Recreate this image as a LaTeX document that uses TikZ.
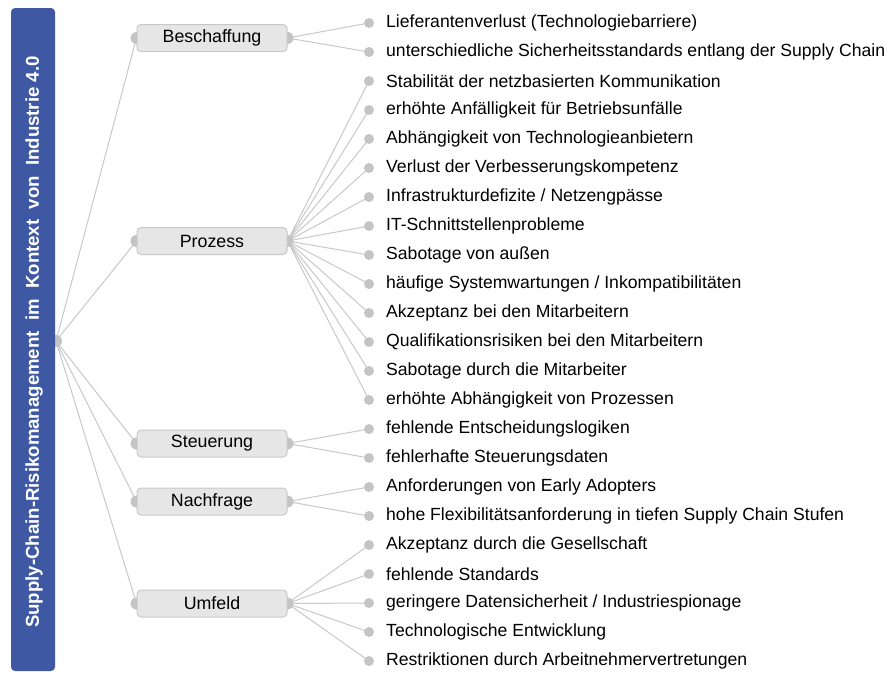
\documentclass[tikz,border=0pt]{standalone}
\usepackage{fontspec}
\setmainfont{Liberation Sans}
\usetikzlibrary{backgrounds}
\definecolor{barblue}{RGB}{62,88,164}
\definecolor{boxfill}{RGB}{230,230,230}
\definecolor{boxline}{RGB}{200,200,200}
\definecolor{linec}{RGB}{200,200,200}
\definecolor{dotc}{RGB}{196,196,196}
\begin{document}
\begin{tikzpicture}[x=1pt,y=-1pt,
  cat/.style={draw=boxline, line width=1pt, fill=boxfill, rounded corners=4pt,
    minimum width=150pt, minimum height=27pt, inner sep=0pt,
    font=\fontsize{17.8}{19}\selectfont},
  leafdot/.style={circle, fill=dotc, minimum size=10pt, inner sep=0pt},
  sidedot/.style={circle, fill=dotc, minimum size=12pt, inner sep=0pt},
  leaf/.style={anchor=west, inner sep=0pt, font=\fontsize{17.6}{19}\selectfont},
  conn/.style={draw=linec, line width=1pt}]
\useasboundingbox (0,0) rectangle (894,673);
% title bar
\node[fill=barblue, rounded corners=4pt, minimum width=44pt, minimum height=663pt, inner sep=0pt] (bar) at (33,339.5) {};
\node[rotate=90, text=white, font=\fontsize{18.6}{20}\selectfont\bfseries] (title) at (34,342)
  {Supply-Chain-Risikomanagement\ \ im\ \ Kontext\ \ von\ \ Industrie 4.0};
\coordinate (root) at (56,341);
% categories
\node[cat] (c1) at (212,38) {Beschaffung};
\node[cat] (c2) at (212,241) {Prozess};
\node[cat] (c3) at (212,443.5) {Steuerung};
\node[cat] (c4) at (212,501.5) {Nachfrage};
\node[cat] (c5) at (212,603.5) {Umfeld};
% leaves
\foreach \i/\t in {0/{Lieferantenverlust (Technologiebarriere)},
  1/{unterschiedliche Sicherheitsstandards entlang der Supply Chain},
  2/{Stabilität der netzbasierten Kommunikation},
  3/{erhöhte Anfälligkeit für Betriebsunfälle},
  4/{Abhängigkeit von Technologieanbietern},
  5/{Verlust der Verbesserungskompetenz},
  6/{Infrastrukturdefizite / Netzengpässe},
  7/{IT-Schnittstellenprobleme},
  8/{Sabotage von außen},
  9/{häufige Systemwartungen / Inkompatibilitäten},
  10/{Akzeptanz bei den Mitarbeitern},
  11/{Qualifikationsrisiken bei den Mitarbeitern},
  12/{Sabotage durch die Mitarbeiter},
  13/{erhöhte Abhängigkeit von Prozessen},
  14/{fehlende Entscheidungslogiken},
  15/{fehlerhafte Steuerungsdaten},
  16/{Anforderungen von Early Adopters},
  17/{hohe Flexibilitätsanforderung in tiefen Supply Chain Stufen},
  18/{Akzeptanz durch die Gesellschaft},
  19/{fehlende Standards},
  20/{geringere Datensicherheit / Industriespionage},
  21/{Technologische Entwicklung},
  22/{Restriktionen durch Arbeitnehmervertretungen}}{
  \node[leafdot] (d\i) at (369,{23+29*\i}) {};
  \node[leaf] (t\i) at (386,{23+29*\i}) {\t};
}
\begin{scope}[on background layer]
  \foreach \c in {c1,c2,c3,c4,c5} {\draw[conn] (root) -- (\c.west);}
  \foreach \i in {0,1} {\draw[conn] (c1.east) -- (d\i.center);}
  \foreach \i in {2,...,13} {\draw[conn] (c2.east) -- (d\i.center);}
  \foreach \i in {14,15} {\draw[conn] (c3.east) -- (d\i.center);}
  \foreach \i in {16,17} {\draw[conn] (c4.east) -- (d\i.center);}
  \foreach \i in {18,...,22} {\draw[conn] (c5.east) -- (d\i.center);}
  \foreach \c in {c1,c2,c3,c4,c5} {
    \node[sidedot] at (\c.west) {};
    \node[sidedot] at (\c.east) {};
  }
  \node[sidedot] at (root) {};
\end{scope}
\end{tikzpicture}
\end{document}
